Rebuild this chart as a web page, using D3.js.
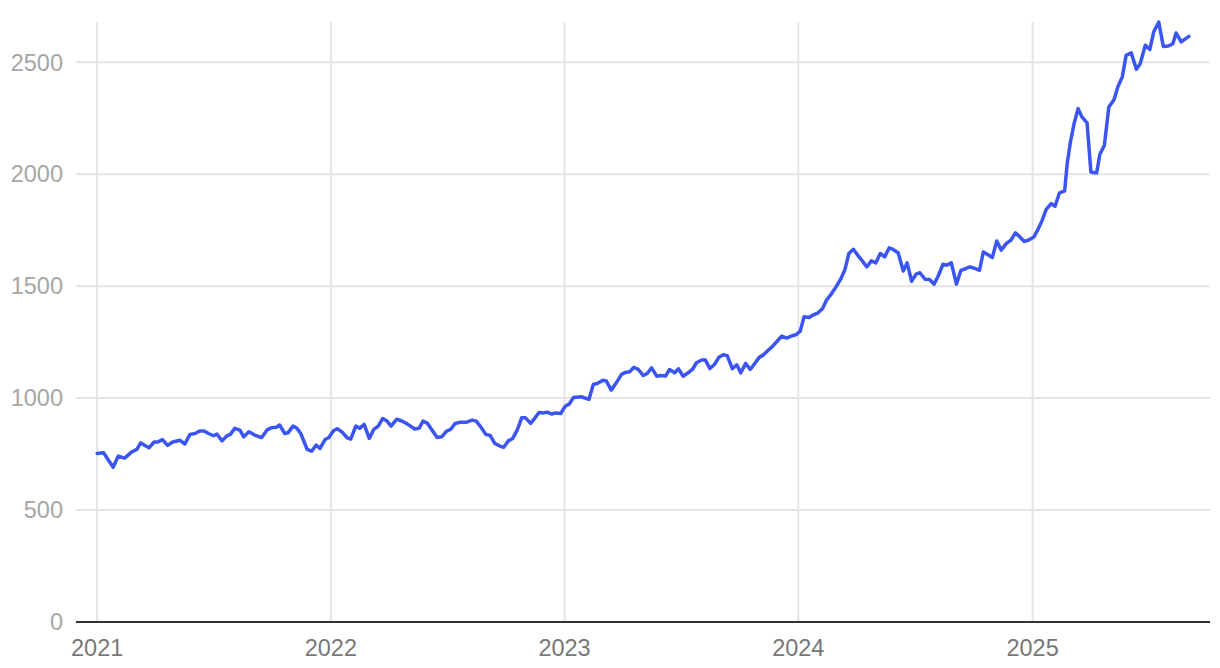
<!DOCTYPE html>
<html>
<head>
<meta charset="utf-8">
<script src="https://cdn.jsdelivr.net/npm/d3@7"></script>
<style>
    html, body { margin: 0; padding: 0; background: #fff; }
    #chart { width: 1220px; height: 668px; }
    text { font-family: "Liberation Sans", Arial, Helvetica, sans-serif; }
</style>
</head>
<body>
<div id="chart"></div>
<script>
const dates = [
    "2021-01-01", "2021-01-11", "2021-01-26", "2021-02-03", "2021-02-13", "2021-02-24", "2021-03-04", "2021-03-10",
    "2021-03-23", "2021-03-31", "2021-04-06", "2021-04-13", "2021-04-21", "2021-04-29", "2021-05-10", "2021-05-18",
    "2021-05-26", "2021-06-03", "2021-06-10", "2021-06-17", "2021-06-24", "2021-07-02", "2021-07-07", "2021-07-15",
    "2021-07-22", "2021-07-28", "2021-08-04", "2021-08-12", "2021-08-18", "2021-08-26", "2021-09-04", "2021-09-15",
    "2021-09-23", "2021-09-30", "2021-10-08", "2021-10-13", "2021-10-21", "2021-10-26", "2021-11-03", "2021-11-09",
    "2021-11-15", "2021-11-25", "2021-12-02", "2021-12-09", "2021-12-15", "2021-12-23", "2021-12-29",
    "2022-01-05", "2022-01-11", "2022-01-18", "2022-01-26", "2022-02-01", "2022-02-09", "2022-02-15", "2022-02-22",
    "2022-03-02", "2022-03-09", "2022-03-16", "2022-03-23", "2022-03-29", "2022-04-05", "2022-04-14", "2022-04-21",
    "2022-04-29", "2022-05-12", "2022-05-19", "2022-05-25", "2022-06-01", "2022-06-09", "2022-06-16", "2022-06-23",
    "2022-07-01", "2022-07-07", "2022-07-14", "2022-07-22", "2022-07-31", "2022-08-10", "2022-08-16", "2022-08-24",
    "2022-08-31", "2022-09-07", "2022-09-14", "2022-09-22", "2022-09-28", "2022-10-05", "2022-10-12", "2022-10-19",
    "2022-10-26", "2022-11-01", "2022-11-09", "2022-11-16", "2022-11-22", "2022-11-29", "2022-12-05", "2022-12-12",
    "2022-12-18", "2022-12-26",
    "2023-01-02", "2023-01-08", "2023-01-15", "2023-01-27", "2023-02-08", "2023-02-15", "2023-02-21", "2023-03-02",
    "2023-03-07", "2023-03-15", "2023-03-22", "2023-03-31", "2023-04-07", "2023-04-13", "2023-04-19", "2023-04-26",
    "2023-05-04", "2023-05-10", "2023-05-17", "2023-05-25", "2023-05-31", "2023-06-08", "2023-06-14", "2023-06-22",
    "2023-06-28", "2023-07-05", "2023-07-13", "2023-07-20", "2023-07-26", "2023-08-03", "2023-08-09", "2023-08-16",
    "2023-08-23", "2023-08-30", "2023-09-06", "2023-09-12", "2023-09-20", "2023-09-27", "2023-10-03", "2023-10-11",
    "2023-10-18", "2023-10-25", "2023-11-01", "2023-11-07", "2023-11-15", "2023-11-21", "2023-11-29", "2023-12-06",
    "2023-12-14", "2023-12-21", "2023-12-29",
    "2024-01-04", "2024-01-10", "2024-01-18", "2024-01-24", "2024-02-01", "2024-02-08", "2024-02-14", "2024-02-22",
    "2024-02-29", "2024-03-07", "2024-03-14", "2024-03-20", "2024-03-27", "2024-04-03", "2024-04-10", "2024-04-17",
    "2024-04-24", "2024-05-01", "2024-05-08", "2024-05-15", "2024-05-22", "2024-05-28", "2024-06-05", "2024-06-13",
    "2024-06-19", "2024-06-26", "2024-07-03", "2024-07-09", "2024-07-17", "2024-07-24", "2024-07-31", "2024-08-06",
    "2024-08-14", "2024-08-20", "2024-08-27", "2024-09-04", "2024-09-11", "2024-09-19", "2024-09-25", "2024-10-03",
    "2024-10-10", "2024-10-16", "2024-10-22", "2024-10-30", "2024-11-06", "2024-11-13", "2024-11-21", "2024-11-28",
    "2024-12-05", "2024-12-12", "2024-12-19", "2024-12-25",
    "2025-01-03", "2025-01-10", "2025-01-16", "2025-01-22", "2025-01-30", "2025-02-05", "2025-02-12", "2025-02-20",
    "2025-02-24", "2025-03-01", "2025-03-07", "2025-03-13", "2025-03-19", "2025-03-27", "2025-04-02", "2025-04-11",
    "2025-04-16", "2025-04-23", "2025-04-30", "2025-05-08", "2025-05-14", "2025-05-21", "2025-05-27", "2025-06-04",
    "2025-06-12", "2025-06-18", "2025-06-26", "2025-07-03", "2025-07-09", "2025-07-17", "2025-07-24", "2025-08-01",
    "2025-08-08", "2025-08-13", "2025-08-21", "2025-08-28", "2025-09-02"
];

const values = [
    753, 756, 691, 741, 732, 760, 771, 800,
    778, 804, 804, 815, 789, 804, 812, 795,
    838, 842, 853, 853, 842, 832, 840, 809,
    830, 838, 865, 857, 827, 850, 835, 824,
    857, 868, 870, 880, 842, 845, 875, 865,
    842, 771, 763, 790, 775, 815, 824,
    854, 863, 850, 824, 817, 875, 865, 883,
    820, 860, 875, 909, 899, 875, 906, 899,
    887, 862, 866, 897, 887, 853, 824, 827,
    853, 860, 887, 892, 892, 902, 897, 868,
    838, 833, 798, 786, 780, 809, 820, 857,
    912, 912, 887, 912, 936, 934, 937, 929,
    934, 931,
    964, 973, 1003, 1006, 994, 1062, 1065, 1080,
    1077, 1036, 1065, 1106, 1116, 1118, 1137, 1128,
    1101, 1110, 1135, 1098, 1101, 1099, 1128, 1113,
    1131, 1098, 1113, 1129, 1158, 1170, 1170, 1132,
    1150, 1182, 1194, 1190, 1132, 1149, 1113, 1155,
    1128, 1155, 1182, 1192, 1214, 1229, 1254, 1277,
    1268, 1277, 1284,
    1299, 1363, 1360, 1371, 1381, 1400, 1437, 1467,
    1497, 1530, 1575, 1646, 1665, 1638, 1613, 1586,
    1613, 1604, 1646, 1631, 1671, 1664, 1649, 1568,
    1604, 1522, 1554, 1560, 1531, 1530, 1509, 1542,
    1598, 1594, 1604, 1509, 1571, 1579, 1586, 1579,
    1571, 1653, 1643, 1628, 1702, 1661, 1691, 1705,
    1738, 1720, 1700, 1705,
    1720, 1757, 1795, 1842, 1869, 1857, 1917, 1926,
    2048, 2144, 2229, 2293, 2256, 2229, 2010, 2006,
    2089, 2129, 2300, 2333, 2390, 2435, 2531, 2542,
    2469, 2494, 2576, 2557, 2635, 2680, 2571, 2573,
    2583, 2631, 2591, 2606, 2616
];

const yTicks = [0, 500, 1000, 1500, 2000, 2500];
const xTickLabels = ["2021", "2022", "2023", "2024", "2025"];

function drawLineChart(selector) {
    const container = d3.select(selector);
    container.selectAll("*").remove();

    const width = 1220;
    const height = 668;
    const margin = { top: 22, right: 10, bottom: 46, left: 76 };
    const chartWidth = width - margin.left - margin.right;
    const chartHeight = height - margin.top - margin.bottom;

    const svg = container.append("svg")
        .attr("width", width)
        .attr("height", height)
        .append("g")
        .attr("transform", `translate(${margin.left},${margin.top})`);

    const parse = d3.timeParse("%Y-%m-%d");
    const data = dates.map((d, i) => ({ date: parse(d), value: values[i] }));

    const x = d3.scaleTime()
        .domain([new Date(2020, 10, 29), new Date(2025, 9, 5)])
        .range([0, chartWidth]);

    const y = d3.scaleLinear()
        .domain([0, 2680])
        .range([chartHeight, 0]);

    const xTicks = xTickLabels.map(t => new Date(+t, 0, 1));

    // Grid
    svg.selectAll(".hgrid")
        .data(yTicks.filter(t => t > 0))
        .enter()
        .append("line")
        .attr("x1", 0)
        .attr("x2", chartWidth)
        .attr("y1", d => y(d))
        .attr("y2", d => y(d))
        .style("stroke", "#e5e5e5")
        .style("stroke-width", 2);

    svg.selectAll(".vgrid")
        .data(xTicks)
        .enter()
        .append("line")
        .attr("x1", d => x(d))
        .attr("x2", d => x(d))
        .attr("y1", 0)
        .attr("y2", chartHeight)
        .style("stroke", "#e5e5e5")
        .style("stroke-width", 2);

    // Baseline
    svg.append("line")
        .attr("x1", 0)
        .attr("x2", chartWidth)
        .attr("y1", y(0))
        .attr("y2", y(0))
        .style("stroke", "#333")
        .style("stroke-width", 2);

    // Y labels
    svg.selectAll(".ylabel")
        .data(yTicks)
        .enter()
        .append("text")
        .attr("x", -13)
        .attr("y", d => y(d))
        .attr("dy", "0.35em")
        .attr("text-anchor", "end")
        .style("font-size", "23.5px")
        .style("fill", "#a6a6a6")
        .text(d => d);

    // X labels
    svg.selectAll(".xlabel")
        .data(xTicks)
        .enter()
        .append("text")
        .attr("x", d => x(d))
        .attr("y", chartHeight + 34)
        .attr("text-anchor", "middle")
        .style("font-size", "23.5px")
        .style("fill", "#777")
        .text((d, i) => xTickLabels[i]);

    // Line
    const line = d3.line()
        .x(d => x(d.date))
        .y(d => y(d.value));

    svg.append("path")
        .datum(data)
        .attr("d", line)
        .style("fill", "none")
        .style("stroke", "#3a55f0")
        .style("stroke-width", 3.5)
        .style("stroke-linejoin", "round")
        .style("stroke-linecap", "round");
}

drawLineChart("#chart");
</script>
</body>
</html>
